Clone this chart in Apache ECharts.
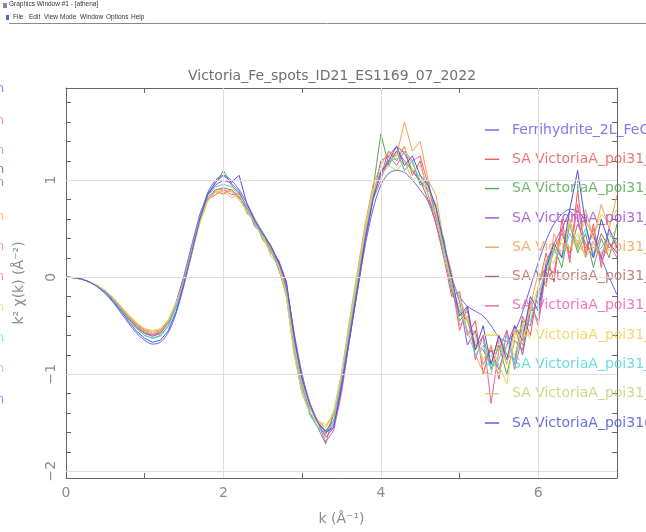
<!DOCTYPE html>
<html>
<head>
<meta charset="utf-8">
<script src="https://cdn.jsdelivr.net/npm/echarts@6/dist/echarts.min.js"></script>
<style>
  html, body { margin: 0; padding: 0; background: #fff; }
  #chart { width: 646px; height: 532px; }
</style>
</head>
<body>
<div id="chart"></div>
<script>
// k grid (Å^-1)
const kGrid = [0, 0.1, 0.2, 0.3, 0.4, 0.5, 0.6, 0.7, 0.8, 0.9, 1.0, 1.1, 1.2, 1.3, 1.4,
  1.5, 1.6, 1.7, 1.8, 1.9, 2.0, 2.1, 2.2, 2.3, 2.4, 2.5, 2.6, 2.7, 2.8, 2.9, 3.0,
  3.1, 3.2, 3.3, 3.4, 3.5, 3.6, 3.7, 3.8, 3.9, 4.0, 4.1, 4.2, 4.3, 4.4, 4.5, 4.6,
  4.7, 4.8, 4.9, 5.0, 5.1, 5.2, 5.3, 5.4, 5.5, 5.6, 5.7, 5.8, 5.9, 6.0, 6.1, 6.2,
  6.3, 6.4, 6.5, 6.6, 6.7, 6.8, 6.9, 7.0]

// k^2 chi(k) per spectrum
const ferrihydrite = [0, -0.005, -0.02, -0.05, -0.1, -0.17, -0.26, -0.37, -0.48, -0.58, -0.65, -0.69, -0.67, -0.57, -0.37,
  -0.08, 0.25, 0.6, 0.87, 1.0, 1.05, 1.0, 0.9, 0.76, 0.6, 0.46, 0.32, 0.15, -0.1, -0.58, -1.0,
  -1.3, -1.48, -1.58, -1.52, -1.15, -0.65, -0.15, 0.32, 0.7, 0.95, 1.07, 1.1, 1.08, 1.0, 0.9, 0.78,
  0.55, 0.25, -0.02, -0.2, -0.3, -0.35, -0.4, -0.5, -0.62, -0.66, -0.56, -0.36, -0.1, 0.15, 0.38, 0.55,
  0.65, 0.7, 0.68, 0.58, 0.42, 0.2, 0.0, -0.18]
const poi01 = [0, -0.005, -0.02, -0.05, -0.09, -0.14, -0.22, -0.31, -0.41, -0.49, -0.55, -0.58, -0.55, -0.45, -0.26,
  0.0, 0.32, 0.6, 0.8, 0.88, 0.86, 0.9, 0.82, 0.72, 0.55, 0.45, 0.3, 0.1, -0.2, -0.8, -1.2,
  -1.4, -1.55, -1.62, -1.42, -1.0, -0.5, 0.0, 0.5, 0.85, 1.05, 1.3, 1.2, 1.35, 1.05, 1.2, 0.85,
  0.55, 0.2, -0.2, -0.15, -0.6, -0.45, -1.0, -0.7, -1.05, -0.55, -0.9, -0.4, -0.6, -0.1, 0.25, -0.05,
  0.6, 0.15, 0.9, 0.2, 0.55, 0.1, 0.5, 0.3]
const poi02 = [0, -0.005, -0.02, -0.05, -0.09, -0.15, -0.23, -0.33, -0.44, -0.53, -0.6, -0.63, -0.6, -0.5, -0.3,
  -0.04, 0.28, 0.63, 0.86, 0.97, 1.1, 0.95, 0.86, 0.66, 0.58, 0.38, 0.3, 0.08, -0.12, -0.72, -1.1,
  -1.42, -1.55, -1.72, -1.4, -1.1, -0.6, -0.1, 0.4, 0.9, 1.48, 1.15, 1.3, 1.1, 1.2, 0.95, 1.0,
  0.62, 0.4, -0.1, -0.45, -0.35, -0.75, -0.6, -0.95, -0.7, -1.0, -0.65, -0.75, -0.3, -0.45, 0.1, 0.3,
  0.1, 0.55, 0.25, 0.45, 0.1, 0.4, 0.2, 0.55]
const poi03 = [0, -0.005, -0.02, -0.05, -0.09, -0.15, -0.23, -0.33, -0.43, -0.52, -0.58, -0.61, -0.58, -0.47, -0.26,
  0.02, 0.34, 0.65, 0.85, 0.95, 1.0, 0.97, 0.88, 0.72, 0.52, 0.45, 0.25, 0.18, -0.05, -0.65, -1.1,
  -1.35, -1.5, -1.65, -1.55, -1.15, -0.62, -0.1, 0.45, 0.82, 1.2, 1.25, 1.35, 1.28, 1.1, 0.98, 0.9,
  0.75, 0.25, 0.0, -0.25, -0.7, -0.55, -0.9, -0.75, -0.95, -0.7, -0.5, -0.8, -0.35, -0.3, 0.15, 0.35,
  0.5, 0.68, 0.6, 0.3, 0.45, 0.2, 0.5, 0.3]
const poi04 = [0, -0.005, -0.02, -0.05, -0.09, -0.14, -0.22, -0.31, -0.4, -0.48, -0.54, -0.56, -0.54, -0.44, -0.26,
  -0.06, 0.25, 0.58, 0.8, 0.9, 0.9, 0.88, 0.8, 0.68, 0.58, 0.4, 0.3, 0.1, -0.18, -0.78, -1.15,
  -1.35, -1.48, -1.55, -1.4, -1.0, -0.45, 0.05, 0.55, 0.95, 1.15, 1.3, 1.25, 1.6, 1.3, 1.4, 1.0,
  0.85, 0.35, 0.05, -0.5, -0.4, -0.8, -0.98, -1.0, -0.65, -0.9, -0.55, -0.7, -0.3, 0.05, -0.1, 0.45,
  0.2, 0.6, 0.3, 0.7, 0.4, 0.75, 0.5, 0.85]
const poi05 = [0, -0.005, -0.02, -0.05, -0.09, -0.15, -0.23, -0.33, -0.43, -0.51, -0.57, -0.6, -0.57, -0.47, -0.27,
  -0.03, 0.28, 0.6, 0.82, 0.9, 0.92, 0.9, 0.83, 0.7, 0.6, 0.42, 0.32, 0.15, -0.1, -0.7, -1.1,
  -1.4, -1.5, -1.58, -1.48, -1.1, -0.58, -0.08, 0.42, 0.85, 1.05, 1.18, 1.3, 1.2, 1.1, 1.0, 0.8,
  0.65, 0.28, -0.15, -0.35, -0.45, -0.7, -0.75, -0.9, -0.6, -0.8, -0.85, -0.45, -0.5, -0.15, -0.05, 0.3,
  0.45, 0.25, 0.55, 0.35, 0.2, 0.45, 0.3, 0.4]
const poi06 = [0, -0.005, -0.02, -0.05, -0.09, -0.14, -0.22, -0.32, -0.42, -0.5, -0.56, -0.59, -0.56, -0.46, -0.26,
  0.0, 0.3, 0.6, 0.8, 0.85, 0.9, 0.85, 0.86, 0.72, 0.55, 0.44, 0.26, 0.14, -0.08, -0.6, -1.05,
  -1.3, -1.5, -1.7, -1.58, -1.2, -0.65, -0.15, 0.35, 0.8, 1.0, 1.25, 1.15, 1.3, 1.2, 1.25, 0.95,
  0.6, 0.35, -0.05, -0.55, -0.3, -0.85, -0.6, -1.3, -0.75, -0.55, -0.95, -0.6, -0.25, -0.5, 0.1, 0.05,
  0.5, 0.2, 0.75, 0.25, 0.5, 0.15, 0.35, 0.2]
const poi07 = [0, -0.005, -0.02, -0.05, -0.08, -0.14, -0.21, -0.3, -0.39, -0.47, -0.53, -0.55, -0.53, -0.44, -0.26,
  -0.05, 0.25, 0.55, 0.78, 0.88, 0.85, 0.9, 0.8, 0.68, 0.55, 0.4, 0.25, 0.12, -0.2, -0.8, -1.2,
  -1.4, -1.5, -1.55, -1.38, -1.0, -0.5, 0.0, 0.5, 0.9, 1.1, 1.2, 1.25, 1.35, 1.1, 1.15, 0.9,
  0.75, 0.3, -0.1, -0.3, -0.55, -0.65, -0.85, -0.7, -0.9, -1.1, -0.6, -0.5, -0.35, -0.1, 0.2, 0.15,
  0.4, 0.55, 0.35, 0.6, 0.4, 0.65, 0.55, 0.7]
const poi08 = [0, -0.005, -0.02, -0.05, -0.09, -0.15, -0.24, -0.34, -0.44, -0.53, -0.6, -0.63, -0.61, -0.51, -0.31,
  -0.02, 0.3, 0.62, 0.84, 0.93, 0.96, 0.93, 0.85, 0.72, 0.56, 0.42, 0.28, 0.1, -0.15, -0.75, -1.15,
  -1.4, -1.55, -1.6, -1.5, -1.05, -0.55, -0.05, 0.45, 0.85, 1.1, 1.2, 1.22, 1.28, 1.18, 1.0, 0.95,
  0.7, 0.3, -0.1, -0.35, -0.55, -0.8, -0.7, -0.95, -0.85, -0.6, -0.9, -0.5, -0.45, -0.15, 0.05, 0.3,
  0.2, 0.45, 0.3, 0.5, 0.25, 0.3, 0.45, 0.35]
const poi09 = [0, -0.005, -0.02, -0.05, -0.09, -0.14, -0.22, -0.32, -0.41, -0.5, -0.56, -0.58, -0.56, -0.46, -0.27,
  -0.04, 0.27, 0.58, 0.8, 0.88, 0.88, 0.82, 0.85, 0.65, 0.6, 0.45, 0.22, 0.12, -0.18, -0.7, -1.1,
  -1.35, -1.48, -1.52, -1.42, -1.0, -0.5, 0.0, 0.48, 0.88, 1.05, 1.15, 1.1, 1.2, 1.0, 1.05, 0.85,
  0.65, 0.25, -0.05, -0.2, -0.45, -0.6, -0.9, -0.8, -1.0, -0.7, -0.8, -0.55, -0.3, -0.2, 0.05, 0.25,
  0.35, 0.3, 0.45, 0.2, 0.35, 0.25, 0.4, 0.5]
const poi10 = [0, -0.005, -0.02, -0.05, -0.1, -0.16, -0.25, -0.35, -0.46, -0.56, -0.63, -0.67, -0.65, -0.55, -0.35,
  -0.06, 0.26, 0.6, 0.85, 0.98, 1.05, 0.98, 1.05, 0.75, 0.58, 0.45, 0.33, 0.16, -0.05, -0.62, -1.05,
  -1.32, -1.5, -1.6, -1.55, -1.12, -0.65, -0.15, 0.38, 0.8, 1.08, 1.2, 1.35, 1.15, 1.25, 1.05, 0.95,
  0.72, 0.35, 0.0, -0.4, -0.3, -0.75, -0.5, -0.9, -0.6, -0.85, -0.5, -0.65, -0.2, -0.35, 0.1, 0.35,
  0.2, 0.7, 1.1, 0.55, 0.2, 0.6, 0.35, 0.25]

const seriesNames = ['Ferrihydrite_2L_FeCl3', 'SA VictoriaA_poi31_01', 'SA VictoriaA_poi31_02',
  'SA VictoriaA_poi31_03', 'SA VictoriaA_poi31_04', 'SA VictoriaA_poi31_05', 'SA VictoriaA_poi31_06',
  'SA VictoriaA_poi31_07', 'SA VictoriaA_poi31_08', 'SA VictoriaA_poi31_09', 'SA VictoriaA_poi31(10)']
const seriesValues = [ferrihydrite, poi01, poi02, poi03, poi04, poi05, poi06, poi07, poi08, poi09, poi10]
const seriesColors = ['#6464f0', '#ec5c5c', '#55aa55', '#a050d2', '#f5a24e', '#b46a6a',
  '#f25ea4', '#f0d24e', '#4fd8d8', '#c2d474', '#5252e2']

const yTickValues = [-2, -1.8, -1.6, -1.4, -1.2, -1, -0.8, -0.6, -0.4, -0.2, 0, 0.2, 0.4, 0.6, 0.8, 1, 1.2, 1.4, 1.6, 1.8]
const yLabelValues = [-2, -1, 0, 1]
const xGridValues = [2, 4, 6]

const chart = echarts.init(document.getElementById('chart'))

const axisColor = '#666'
const labelColor = '#8c8c8c'
const font = 'DejaVu Sans'
const menuFont = 'Liberation Sans'
const fmtMinus = v => (v < 0 ? '\u2212' + Math.abs(v) : String(v))

const lineSeries = seriesNames.map((name, i) => ({
  name,
  type: 'line',
  data: kGrid.map((k, j) => [k, seriesValues[i][j]]),
  symbol: 'none',
  smooth: i === 0 ? 0.3 : false,
  lineStyle: { width: 1, color: seriesColors[i] },
  itemStyle: { color: seriesColors[i] },
  z: 3
}))

// grid lines
const gridSeries = {
  type: 'line',
  data: [],
  z: 1,
  markLine: {
    silent: true,
    symbol: 'none',
    label: { show: false },
    lineStyle: { color: '#dedede', width: 1, type: 'solid' },
    data: yLabelValues.map(v => ({ yAxis: v })).concat(xGridValues.map(v => ({ xAxis: v })))
  }
}

// clipped legend glyphs of a window behind, on the left edge
const edgeMarks = [
  { y: 82, c: '#8a8aff' }, { y: 114, c: '#ff8a8a' }, { y: 144, c: '#8acc8a' }, { y: 163, c: '#b07070' },
  { y: 176, c: '#c080e0' }, { y: 210, c: '#ffc080' }, { y: 240, c: '#ff9a9a' }, { y: 270, c: '#ff8ac0' },
  { y: 301, c: '#f5dd80' }, { y: 331, c: '#80e8e8' }, { y: 362, c: '#a8dc9a' }, { y: 393, c: '#8a8aff' }
]
const menuItems = [['File', 13], ['Edit', 29], ['View', 44], ['Mode', 60], ['Window', 80], ['Options', 106], ['Help', 131]]

chart.setOption({
  animation: false,
  backgroundColor: '#fff',
  title: {
    text: 'Victoria_Fe_spots_ID21_ES1169_07_2022',
    left: 183,
    top: 64,
    textStyle: { color: '#707070', fontFamily: font, fontSize: 14, fontWeight: 'normal' }
  },
  grid: { left: 66, right: 29, top: 88, bottom: 54 },
  xAxis: [{
    type: 'value',
    min: 0,
    max: 7,
    interval: 1,
    name: 'k (\u00c5\u207b\u00b9)',
    nameLocation: 'middle',
    nameGap: 34,
    nameTextStyle: { color: labelColor, fontFamily: font, fontSize: 14 },
    axisLine: { onZero: false, lineStyle: { color: axisColor } },
    axisTick: { inside: true, length: 5, lineStyle: { color: axisColor } },
    axisLabel: {
      margin: 8,
      color: labelColor,
      fontFamily: font,
      fontSize: 14,
      formatter: v => (v % 2 === 0 && v < 7 ? String(v) : '')
    },
    splitLine: { show: false }
  }, {
    type: 'value',
    position: 'top',
    min: 0,
    max: 7,
    interval: 1,
    axisLine: { onZero: false, lineStyle: { color: axisColor } },
    axisTick: { inside: true, length: 5, lineStyle: { color: axisColor } },
    axisLabel: { show: false },
    splitLine: { show: false }
  }],
  yAxis: [{
    type: 'value',
    min: -2.07,
    max: 1.95,
    name: 'k\u00b2 \u03c7(k) (\u00c5\u207b\u00b2)',
    nameLocation: 'middle',
    nameRotate: 90,
    nameGap: 40,
    nameTextStyle: { color: labelColor, fontFamily: font, fontSize: 14 },
    axisLine: { show: true, onZero: false, lineStyle: { color: axisColor } },
    axisTick: { show: true, inside: true, length: 5, customValues: yTickValues, lineStyle: { color: axisColor } },
    axisLabel: {
      customValues: yLabelValues,
      rotate: 90,
      margin: 8,
      color: labelColor,
      fontFamily: font,
      fontSize: 14,
      formatter: fmtMinus
    },
    splitLine: { show: false }
  }, {
    type: 'value',
    position: 'right',
    min: -2.07,
    max: 1.95,
    axisLine: { show: true, onZero: false, lineStyle: { color: axisColor } },
    axisTick: { show: true, inside: true, length: 5, customValues: yTickValues, lineStyle: { color: axisColor } },
    axisLabel: { show: false },
    splitLine: { show: false }
  }],
  legend: {
    orient: 'vertical',
    left: 480,
    top: 117,
    itemWidth: 14,
    itemHeight: 2,
    itemGap: 13.3,
    selectedMode: false,
    icon: 'path://M0,0L14,0L14,1.4L0,1.4Z',
    textStyle: { fontFamily: font, fontSize: 14, lineHeight: 16, padding: [0, 0, 0, 8] },
    data: seriesNames.map((name, i) => ({ name, textStyle: { color: seriesColors[i], opacity: 0.85 } }))
  },
  graphic: [
    { type: 'text', left: 9, top: 1, style: { text: 'Graphics Window #1 - [athena]', fontSize: 6.5, fontFamily: menuFont, fill: '#333' } },
    { type: 'rect', left: 3, top: 3, shape: { width: 4, height: 5 }, style: { fill: '#7a8ab0' } },
    { type: 'rect', left: 6, top: 15, shape: { width: 3, height: 5 }, style: { fill: '#4a70c0' } },
    { type: 'line', shape: { x1: 9, y1: 23.5, x2: 646, y2: 23.5 }, style: { stroke: '#8a8a8a', lineWidth: 1 } }
  ].concat(menuItems.map(([t, x]) => ({
    type: 'text', left: x, top: 14, style: { text: t, fontSize: 6.5, fontFamily: menuFont, fill: '#333' }
  }))).concat(edgeMarks.map(m => ({
    type: 'text', left: -4, top: m.y, style: { text: 'n', fontSize: 13, fontFamily: font, fill: m.c }
  }))),
  series: [gridSeries].concat(lineSeries)
})
</script>
</body>
</html>
